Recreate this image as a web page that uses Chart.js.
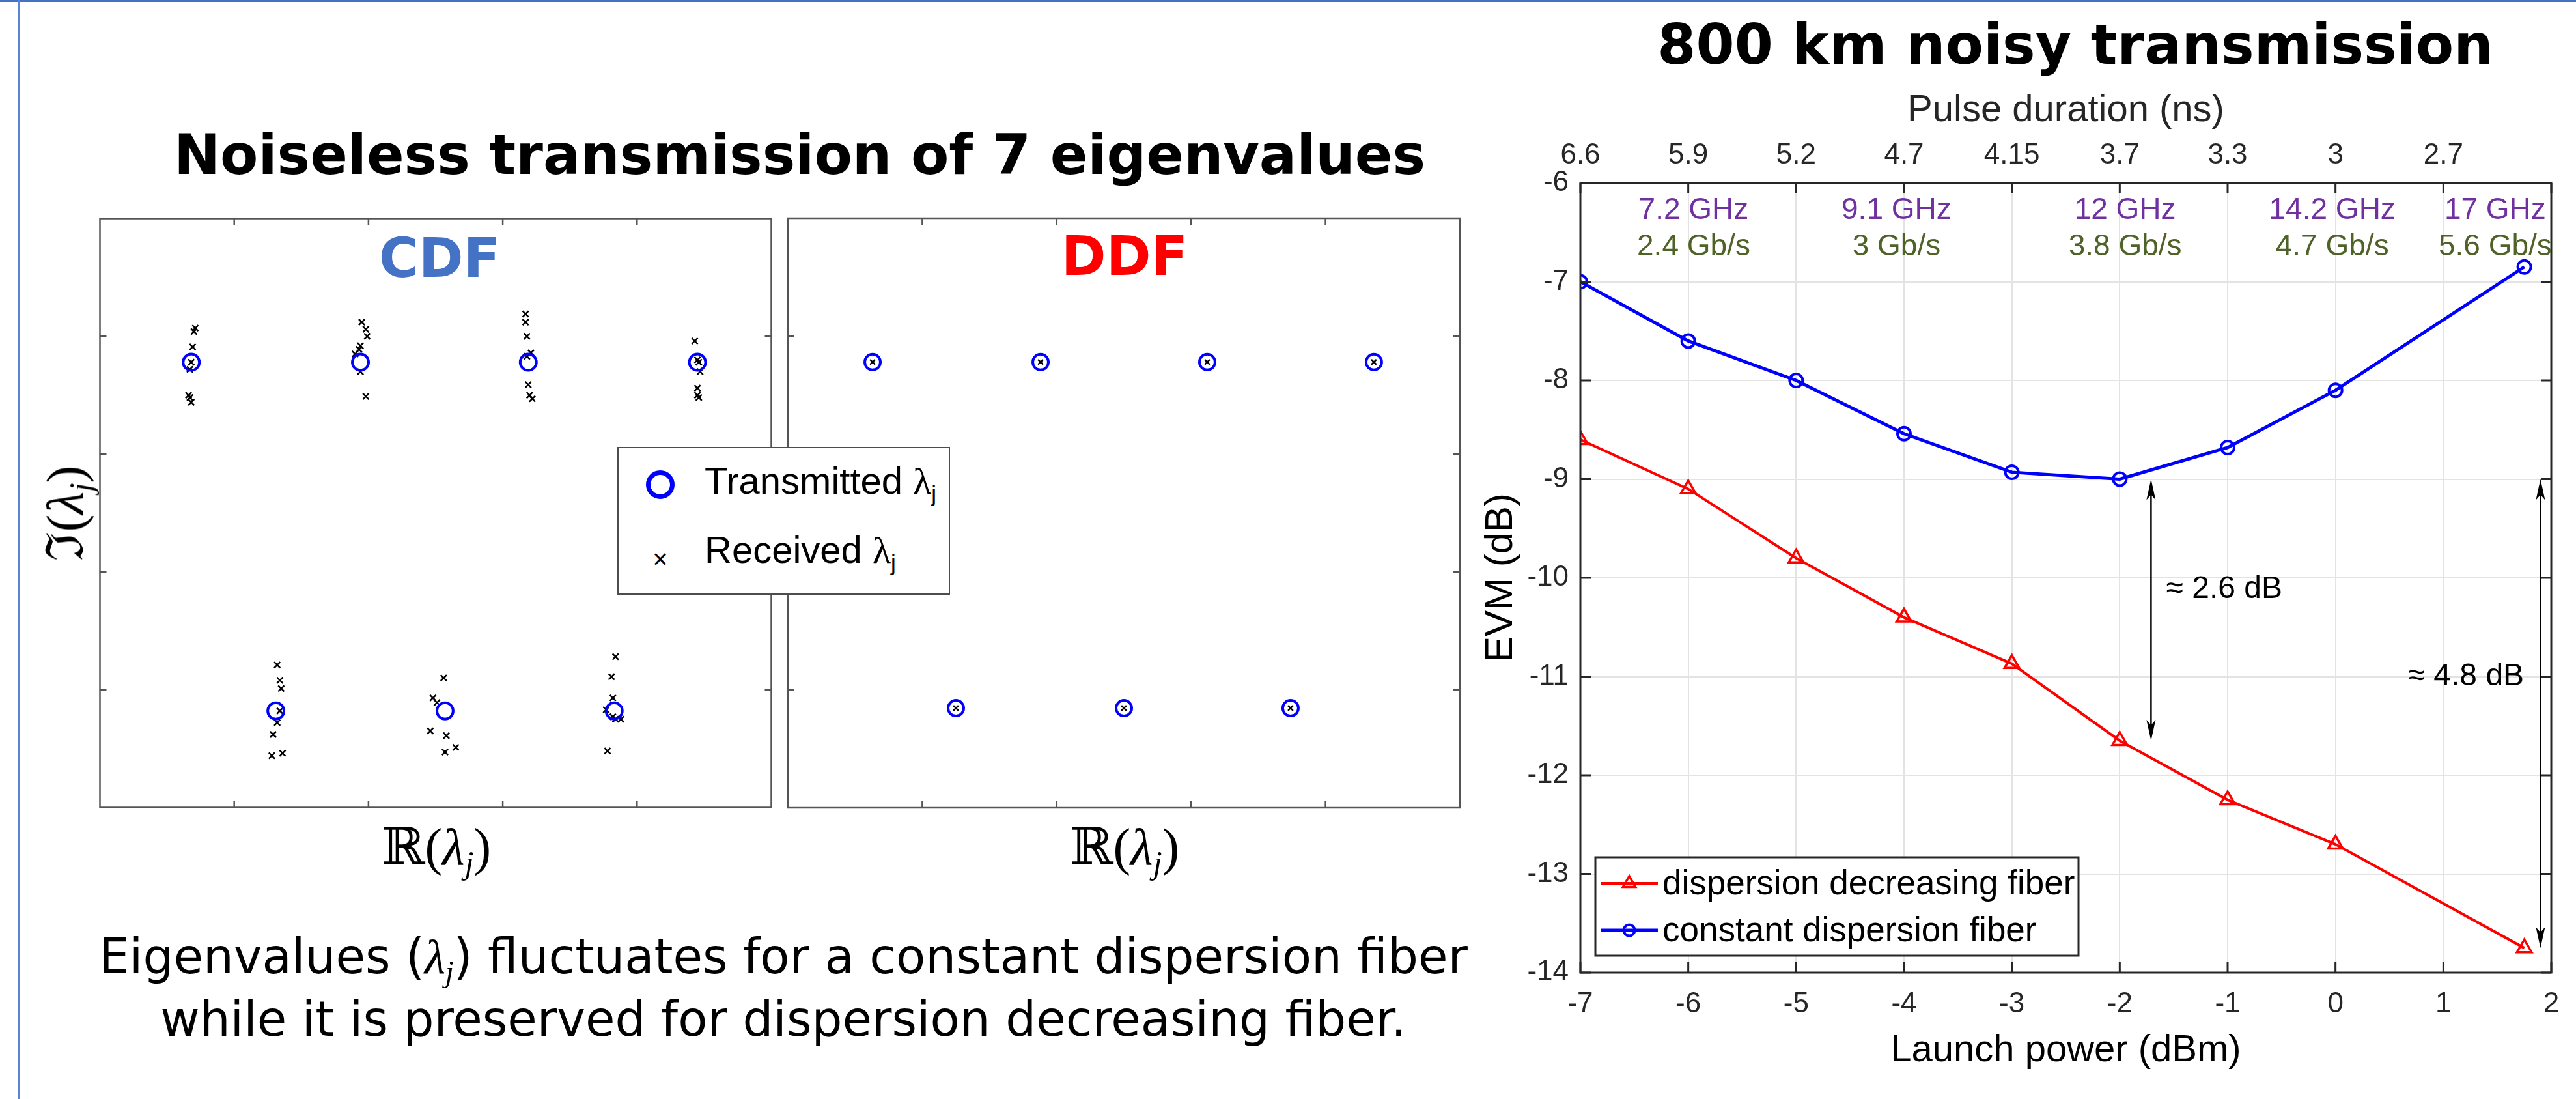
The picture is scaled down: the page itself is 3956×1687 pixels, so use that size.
<!DOCTYPE html>
<html lang="en">

<head>
    <meta charset="UTF-8">
    <title>Eigenvalue transmission</title>
    <script src="https://cdn.jsdelivr.net/npm/chart.js"></script>
    <style>
        html, body { margin: 0; padding: 0; background: #fff; overflow: hidden; }
        #slide { position: relative; width: 3956px; height: 1687px; background: #fff; overflow: hidden; }
        canvas { position: absolute; }
        .abs { position: absolute; white-space: nowrap; line-height: 1; }
        .mid { transform: translate(-50%, -50%); }
        .frameTop { left: 0; top: 0; width: 3956px; height: 3px; background: #4472c4; }
        .frameLeft { left: 28px; top: 0; width: 2px; height: 1687px; background: #5b84d6; }
        .head { font-family: 'DejaVu Sans', Verdana, sans-serif; font-weight: bold; font-size: 85px; color: #000; }
        .tag { font-family: 'DejaVu Sans', Verdana, sans-serif; font-weight: bold; font-size: 83px; }
        .math { font-family: 'Liberation Serif', 'DejaVu Serif', serif; font-size: 80px; color: #000; }
        .math i { font-style: italic; }
        .math sub, .foot sub { font-size: 0.62em; line-height: 0; vertical-align: -0.28em; }
        .foot { font-family: 'DejaVu Sans', Verdana, sans-serif; font-size: 74px; color: #000; }
        .foot .lam { font-family: 'Liberation Serif', 'DejaVu Serif', serif; font-style: italic; }
        #planeLegend { left: 948px; top: 686px; width: 511px; height: 227px; box-sizing: border-box;
            border: 2.5px solid #4d4d4d; background: #fff; }
        .legText { font-family: 'Liberation Sans', Arial, sans-serif; font-size: 58px; color: #000; }
        .legText .lam { font-family: 'Liberation Serif', serif; }
        .legText sub { font-size: 0.6em; line-height: 0; vertical-align: -0.35em; }
        .legCircle { position: absolute; width: 44px; height: 44px; box-sizing: border-box;
            border: 7px solid #0000ff; border-radius: 50%; }
        .legCross { font-family: 'Liberation Sans', Arial, sans-serif; font-size: 40px; color: #000; }
    </style>
</head>

<body>
<div id="slide">
    <div class="abs frameTop"></div>
    <div class="abs frameLeft"></div>

    <canvas id="cdfPlane" width="1064" height="937" style="left:137px;top:319px"></canvas>
    <canvas id="ddfPlane" width="1064" height="937" style="left:1194px;top:319px"></canvas>
    <canvas id="evmChart" width="1776" height="1687" style="left:2180px;top:0px"></canvas>

    <div class="abs mid head" style="left:1228px;top:237px">Noiseless transmission of 7 eigenvalues</div>
    <div class="abs mid head" style="left:3187px;top:68px">800 km noisy transmission</div>

    <div class="abs mid tag" style="left:675px;top:396px;color:#4472c4">CDF</div>
    <div class="abs mid tag" style="left:1727px;top:393px;color:#ff0000">DDF</div>

    <div class="abs math" style="left:100px;top:788px;transform:translate(-50%,-50%) rotate(-90deg)">ℑ(<i>λ</i><sub><i>j</i></sub>)</div>
    <div class="abs mid math" style="left:670px;top:1300px">ℝ(<i>λ</i><sub><i>j</i></sub>)</div>
    <div class="abs mid math" style="left:1727px;top:1300px">ℝ(<i>λ</i><sub><i>j</i></sub>)</div>

    <div id="planeLegend" class="abs">
        <span class="legCircle" style="left:42px;top:34px"></span>
        <span class="abs legText" style="left:132px;top:21px">Transmitted <span class="lam">λ</span><sub>j</sub></span>
        <span class="abs mid legCross" style="left:64px;top:170px">×</span>
        <span class="abs legText" style="left:132px;top:127px">Received <span class="lam">λ</span><sub>j</sub></span>
    </div>

    <div class="abs mid foot" style="left:1203px;top:1468px">Eigenvalues (<span class="lam">λ</span><sub><span class="lam">j</span></sub>) fluctuates for a constant dispersion fiber</div>
    <div class="abs mid foot" style="left:1203px;top:1564px">while it is preserved for dispersion decreasing fiber.</div>
</div>

<script>
    // ---- eigenvalue planes (plot units, both axes 0..5) ----
    const cdfTxRe = [0.68, 1.94, 3.19, 4.45, 1.31, 2.57, 3.83];
    const cdfTxIm = [3.78, 3.78, 3.78, 3.78, 0.82, 0.82, 0.82];

    const cdfRxRe = [0.71, 0.70, 0.69, 0.68, 0.67, 0.66, 0.67, 0.68,
        1.95, 1.98, 1.99, 1.94, 1.93, 1.90, 1.94, 1.98,
        3.17, 3.17, 3.18, 3.21, 3.18, 3.19, 3.20, 3.22,
        4.43, 4.45, 4.46, 4.47, 4.45, 4.45, 4.46,
        1.32, 1.34, 1.35, 1.34, 1.32, 1.29, 1.28, 1.36,
        2.56, 2.48, 2.51, 2.46, 2.58, 2.57, 2.65,
        3.84, 3.81, 3.82, 3.77, 3.82, 3.84, 3.88, 3.78];
    const cdfRxIm = [4.07, 4.04, 3.91, 3.78, 3.72, 3.50, 3.48, 3.44,
        4.12, 4.06, 4.00, 3.92, 3.89, 3.85, 3.70, 3.49,
        4.19, 4.12, 4.00, 3.86, 3.83, 3.59, 3.50, 3.47,
        3.96, 3.80, 3.78, 3.70, 3.56, 3.50, 3.48,
        1.21, 1.08, 1.01, 0.82, 0.72, 0.62, 0.44, 0.46,
        1.10, 0.93, 0.89, 0.65, 0.61, 0.47, 0.51,
        1.28, 1.11, 0.93, 0.83, 0.77, 0.75, 0.75, 0.48];

    const ddfTxRe = [0.63, 1.88, 3.12, 4.36, 1.25, 2.50, 3.74];
    const ddfTxIm = [3.78, 3.78, 3.78, 3.78, 0.845, 0.845, 0.845];
    const ddfRxRe = [0.63, 1.88, 3.12, 4.36, 1.25, 2.50, 3.74];
    const ddfRxIm = [3.78, 3.78, 3.78, 3.78, 0.845, 0.845, 0.845];

    const planeTicks = [1, 2, 3, 4];

    // ---- EVM vs launch power ----
    const launchPower = [-7, -6, -5, -4, -3, -2, -1, 0, 1.75];
    const evmDecreasing = [-8.6, -9.1, -9.8, -10.4, -10.87, -11.65, -12.25, -12.7, -13.75];
    const evmConstant = [-7.0, -7.6, -8.0, -8.54, -8.93, -9.0, -8.68, -8.1, -6.85];

    const pulseTickPower = [-7, -6, -5, -4, -3, -2, -1, 0, 1];
    const pulseDuration = ['6.6', '5.9', '5.2', '4.7', '4.15', '3.7', '3.3', '3', '2.7'];

    const ratePower = [-5.95, -4.07, -1.95, -0.03, 1.48];
    const bandwidthText = ['7.2 GHz', '9.1 GHz', '12 GHz', '14.2 GHz', '17 GHz'];
    const bitRateText = ['2.4 Gb/s', '3 Gb/s', '3.8 Gb/s', '4.7 Gb/s', '5.6 Gb/s'];
    const bandwidthEvm = -6.28;
    const bitRateEvm = -6.65;

    const arrowPower = [-1.71, 1.9];
    const arrowTop = [-9.0, -9.0];
    const arrowBottom = [-11.65, -13.75];
    const gapText = ['≈ 2.6 dB', '≈ 4.8 dB'];
    const gapPower = [-1.57, 0.67];
    const gapEvm = [-10.12, -11.0];

    const SANS = "'Liberation Sans', Arial, Helvetica, sans-serif";
    Chart.defaults.font.family = SANS;

    function pts(xs, ys) {
        return xs.map(function (v, i) { return { x: v, y: ys[i] }; });
    }

    // box with inward ticks for the eigenvalue planes
    const planeBox = {
        id: 'planeBox',
        afterDatasetsDraw(chart) {
            const ctx = chart.ctx, a = chart.chartArea, sx = chart.scales.x, sy = chart.scales.y;
            ctx.save();
            ctx.strokeStyle = '#555';
            ctx.lineWidth = 2.5;
            ctx.strokeRect(a.left, a.top, a.right - a.left, a.bottom - a.top);
            ctx.beginPath();
            planeTicks.forEach(function (t) {
                const px = sx.getPixelForValue(t), py = sy.getPixelForValue(t);
                ctx.moveTo(px, a.bottom); ctx.lineTo(px, a.bottom - 10);
                ctx.moveTo(px, a.top); ctx.lineTo(px, a.top + 10);
                ctx.moveTo(a.left, py); ctx.lineTo(a.left + 10, py);
                ctx.moveTo(a.right, py); ctx.lineTo(a.right - 10, py);
            });
            ctx.stroke();
            ctx.restore();
        }
    };

    function planeChart(id, txRe, txIm, rxRe, rxIm, txRadius, rxRadius) {
        return new Chart(document.getElementById(id), {
            type: 'scatter',
            data: {
                datasets: [{
                    label: 'Transmitted',
                    data: pts(txRe, txIm),
                    pointStyle: 'circle',
                    pointRadius: txRadius,
                    pointBorderWidth: 4,
                    pointBorderColor: '#0000ff',
                    pointBackgroundColor: 'rgba(0,0,0,0)'
                }, {
                    label: 'Received',
                    data: pts(rxRe, rxIm),
                    pointStyle: 'crossRot',
                    pointRadius: rxRadius,
                    pointBorderWidth: 2.5,
                    pointBorderColor: '#000',
                    pointBackgroundColor: '#000'
                }]
            },
            options: {
                responsive: false,
                animation: false,
                events: [],
                layout: { padding: 10 },
                scales: {
                    x: { type: 'linear', min: 0, max: 5, display: false },
                    y: { type: 'linear', min: 0, max: 5, display: false }
                },
                plugins: { legend: { display: false }, tooltip: { enabled: false } }
            },
            plugins: [planeBox]
        });
    }

    planeChart('cdfPlane', cdfTxRe, cdfTxIm, cdfRxRe, cdfRxIm, 12.5, 6.5);
    planeChart('ddfPlane', ddfTxRe, ddfTxIm, ddfRxRe, ddfRxIm, 12, 5.5);

    // MATLAB-like axes box with inward ticks
    const evmBox = {
        id: 'evmBox',
        afterDatasetsDraw(chart) {
            const ctx = chart.ctx, a = chart.chartArea, sx = chart.scales.x, sy = chart.scales.y;
            ctx.save();
            ctx.strokeStyle = '#262626';
            ctx.lineWidth = 3;
            ctx.strokeRect(a.left, a.top, a.right - a.left, a.bottom - a.top);
            ctx.beginPath();
            sx.ticks.forEach(function (t) {
                const px = sx.getPixelForValue(t.value);
                ctx.moveTo(px, a.bottom); ctx.lineTo(px, a.bottom - 16);
                ctx.moveTo(px, a.top); ctx.lineTo(px, a.top + 16);
            });
            sy.ticks.forEach(function (t) {
                const py = sy.getPixelForValue(t.value);
                ctx.moveTo(a.left, py); ctx.lineTo(a.left + 16, py);
                ctx.moveTo(a.right, py); ctx.lineTo(a.right - 16, py);
            });
            ctx.stroke();
            ctx.restore();
        }
    };

    function arrowHead(ctx, x, y, dir) {
        // dir = 1 -> pointing down, -1 -> pointing up
        ctx.beginPath();
        ctx.moveTo(x, y);
        ctx.lineTo(x - 7, y - dir * 32);
        ctx.lineTo(x, y - dir * 24);
        ctx.lineTo(x + 7, y - dir * 32);
        ctx.closePath();
        ctx.fill();
    }

    // rate labels, double arrows and gap texts
    const evmNotes = {
        id: 'evmNotes',
        afterDatasetsDraw(chart) {
            const ctx = chart.ctx, sx = chart.scales.x, sy = chart.scales.y;
            ctx.save();
            ctx.font = '46px ' + SANS;
            ctx.textAlign = 'center';
            ctx.textBaseline = 'middle';
            ratePower.forEach(function (p, i) {
                ctx.fillStyle = '#7030a0';
                ctx.fillText(bandwidthText[i], sx.getPixelForValue(p), sy.getPixelForValue(bandwidthEvm));
                ctx.fillStyle = '#4f6228';
                ctx.fillText(bitRateText[i], sx.getPixelForValue(p), sy.getPixelForValue(bitRateEvm));
            });

            ctx.strokeStyle = '#000';
            ctx.fillStyle = '#000';
            ctx.lineWidth = 2.5;
            arrowPower.forEach(function (p, i) {
                const x = sx.getPixelForValue(p);
                const y1 = sy.getPixelForValue(arrowTop[i]);
                const y2 = sy.getPixelForValue(arrowBottom[i]);
                ctx.beginPath();
                ctx.moveTo(x, y1 + 20);
                ctx.lineTo(x, y2 - 20);
                ctx.stroke();
                arrowHead(ctx, x, y1, -1);
                arrowHead(ctx, x, y2, 1);
            });

            ctx.font = '48px ' + SANS;
            ctx.textAlign = 'left';
            gapText.forEach(function (t, i) {
                ctx.fillText(t, sx.getPixelForValue(gapPower[i]), sy.getPixelForValue(gapEvm[i]));
            });
            ctx.restore();
        }
    };

    // boxed legend in the lower left corner of the plot
    const evmLegend = {
        id: 'evmLegend',
        afterDraw(chart) {
            const ctx = chart.ctx, a = chart.chartArea;
            const x0 = a.left + 23, w = 742, h = 151;
            const y0 = a.bottom - 26 - h;
            ctx.save();
            ctx.fillStyle = '#fff';
            ctx.fillRect(x0, y0, w, h);
            ctx.strokeStyle = '#262626';
            ctx.lineWidth = 3;
            ctx.strokeRect(x0, y0, w, h);
            ctx.font = '53px ' + SANS;
            ctx.textBaseline = 'middle';
            ctx.textAlign = 'left';
            chart.data.datasets.forEach(function (ds, i) {
                const cy = y0 + 40 + i * 72;
                ctx.strokeStyle = ds.borderColor;
                ctx.lineWidth = ds.borderWidth;
                ctx.beginPath();
                ctx.moveTo(x0 + 9, cy);
                ctx.lineTo(x0 + 96, cy);
                ctx.stroke();
                ctx.lineWidth = ds.pointBorderWidth;
                const mx = x0 + 52, r = ds.pointRadius * 0.85;
                ctx.beginPath();
                if (ds.pointStyle === 'triangle') {
                    ctx.moveTo(mx, cy - r);
                    ctx.lineTo(mx + r * 0.866, cy + r * 0.5);
                    ctx.lineTo(mx - r * 0.866, cy + r * 0.5);
                    ctx.closePath();
                } else {
                    ctx.arc(mx, cy, r, 0, Math.PI * 2);
                }
                ctx.stroke();
                ctx.fillStyle = '#000';
                ctx.fillText(ds.label, x0 + 103, cy + 2);
            });
            ctx.restore();
        }
    };

    const tickFont = { family: SANS, size: 44 };
    const titleFont = { family: SANS, size: 58 };

    new Chart(document.getElementById('evmChart'), {
        type: 'line',
        data: {
            datasets: [{
                label: 'dispersion decreasing fiber',
                data: pts(launchPower, evmDecreasing),
                borderColor: '#ff0000',
                borderWidth: 4,
                pointStyle: 'triangle',
                pointRadius: 13,
                pointBorderWidth: 3.5,
                pointBorderColor: '#ff0000',
                pointBackgroundColor: 'rgba(0,0,0,0)',
                tension: 0,
                xAxisID: 'x',
                yAxisID: 'y'
            }, {
                label: 'constant dispersion fiber',
                data: pts(launchPower, evmConstant),
                borderColor: '#0000ff',
                borderWidth: 5,
                pointStyle: 'circle',
                pointRadius: 10,
                pointBorderWidth: 4,
                pointBorderColor: '#0000ff',
                pointBackgroundColor: 'rgba(0,0,0,0)',
                tension: 0,
                xAxisID: 'x',
                yAxisID: 'y'
            }]
        },
        options: {
            responsive: false,
            animation: false,
            events: [],
            layout: { padding: { left: 0, right: 38, top: 0, bottom: 0 } },
            scales: {
                x: {
                    type: 'linear',
                    position: 'bottom',
                    min: -7,
                    max: 2,
                    ticks: { stepSize: 1, padding: 22, font: tickFont, color: '#262626' },
                    grid: { color: '#e3e3e3', lineWidth: 2, drawTicks: false },
                    border: { display: false },
                    title: { display: true, text: 'Launch power (dBm)', font: titleFont, color: '#000', padding: { top: 0, bottom: 39 } },
                    afterFit: function (s) { s.height = 194; }
                },
                x2: {
                    type: 'linear',
                    position: 'top',
                    min: -7,
                    max: 2,
                    ticks: {
                        stepSize: 1, padding: 16, font: tickFont, color: '#262626',
                        callback: function (v) {
                            const i = pulseTickPower.indexOf(v);
                            return i < 0 ? '' : pulseDuration[i];
                        }
                    },
                    grid: { display: false, drawTicks: false },
                    border: { display: false },
                    title: { display: true, text: 'Pulse duration (ns)', font: titleFont, color: '#262626', padding: { top: 135, bottom: 0 } },
                    afterFit: function (s) { s.height = 281; }
                },
                y: {
                    type: 'linear',
                    min: -14,
                    max: -6,
                    ticks: { stepSize: 1, padding: 18, font: tickFont, color: '#262626' },
                    grid: { color: '#e3e3e3', lineWidth: 2, drawTicks: false },
                    border: { display: false },
                    title: { display: true, text: 'EVM (dB)', font: { family: SANS, size: 60 }, color: '#000', padding: { top: 89, bottom: 0 } },
                    afterFit: function (s) { s.width = 247; }
                }
            },
            plugins: { legend: { display: false }, tooltip: { enabled: false } }
        },
        plugins: [evmBox, evmNotes, evmLegend]
    });
</script>
</body>

</html>
